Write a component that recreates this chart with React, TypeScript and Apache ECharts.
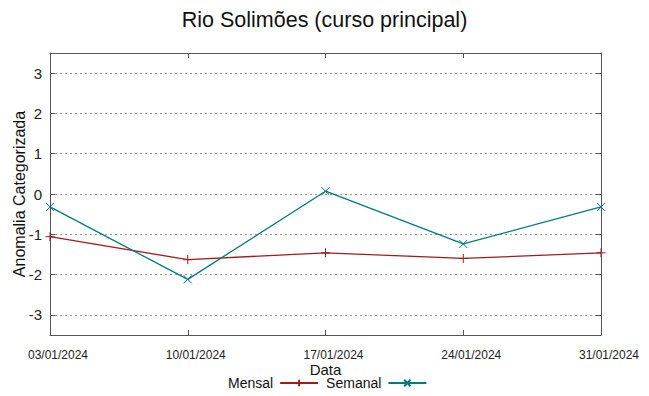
import React, { useEffect, useRef } from "react";
import * as echarts from "echarts";

const dates = ["03/01/2024", "10/01/2024", "17/01/2024", "24/01/2024", "31/01/2024"];
const mensal = [-1.06, -1.63, -1.46, -1.6, -1.46];
const semanal = [-0.32, -2.12, 0.07, -1.24, -0.32];
const yTicks = [-3, -2, -1, 0, 1, 2, 3];

const FONT = "Liberation Sans";
const RED = "#a01c1c";
const TEAL = "#007b7b";
const AXIS = "#555";

const plusPath = "path://M0,5L10,5M5,0L5,10";
const crossPath = "path://M0,0L10,10M10,0L0,10";

export default function App() {
  const ref = useRef<HTMLDivElement>(null);
  useEffect(() => {
    if (!ref.current) return;
    const chart = echarts.init(ref.current, undefined, { renderer: "svg" });
    const baseY = {
      type: "value" as const,
      min: -3.5,
      max: 3.5,
      axisLine: { show: true, onZero: false, lineStyle: { color: AXIS, width: 1 } },
    };
    chart.setOption({
      animation: false,
      backgroundColor: "#fff",
      textStyle: { fontFamily: FONT },
      title: {
        text: "Rio Solimões (curso principal)",
        left: "center",
        top: 4,
        textStyle: { fontFamily: FONT, fontSize: 21.5, fontWeight: "normal", color: "#111" },
      },
      grid: { left: 50, right: 48, top: 53, bottom: 61, containLabel: false, outerBoundsMode: "none" },
      legend: {
        left: 228,
        top: 376,
        padding: 0,
        align: "right",
        itemWidth: 38,
        itemHeight: 8,
        itemGap: 7,
        textStyle: { fontFamily: FONT, fontSize: 14, color: "#111", padding: [0, 2, 0, 0] },
        data: ["Mensal", "Semanal"],
      },
      xAxis: [
        {
          type: "category",
          data: dates,
          boundaryGap: false,
          position: "bottom",
          name: "Data",
          nameLocation: "middle",
          nameGap: 27,
          nameMoveOverlap: false,
          nameTextStyle: { fontFamily: FONT, fontSize: 15, color: "#111" },
          axisLine: { show: true, onZero: false, lineStyle: { color: AXIS, width: 1 } },
          axisTick: { show: true, inside: true, length: 5, lineStyle: { color: AXIS } },
          axisLabel: { fontFamily: FONT, fontSize: 12, color: "#222", margin: 14, padding: [0, 0, 0, 16] },
          splitLine: { show: false },
        },
        {
          type: "category",
          data: dates,
          boundaryGap: false,
          position: "top",
          axisLine: { show: true, onZero: false, lineStyle: { color: AXIS, width: 1 } },
          axisTick: { show: true, inside: true, length: 5, lineStyle: { color: AXIS } },
          axisLabel: { show: false },
          splitLine: { show: false },
        },
      ],
      yAxis: [
        {
          ...baseY,
          position: "left",
          name: "Anomalia Categorizada",
          nameLocation: "middle",
          nameGap: 23,
          nameMoveOverlap: false,
          nameTextStyle: { fontFamily: FONT, fontSize: 16, color: "#111" },
          axisTick: { show: true, inside: true, length: 5, customValues: yTicks, lineStyle: { color: AXIS } },
          axisLabel: { fontFamily: FONT, fontSize: 15, color: "#222", margin: 8, customValues: yTicks },
          splitLine: { show: true, lineStyle: { color: "#999", type: [2, 3], width: 1 } },
        },
        {
          ...baseY,
          position: "right",
          axisTick: { show: true, inside: true, length: 5, customValues: yTicks, lineStyle: { color: AXIS } },
          axisLabel: { show: false, customValues: yTicks },
          splitLine: { show: false },
        },
      ],
      series: [
        {
          name: "Mensal",
          type: "line",
          data: mensal,
          symbol: plusPath,
          symbolSize: 9,
          showAllSymbol: true,
          itemStyle: { color: RED, borderColor: RED, borderWidth: 1 },
          lineStyle: { color: RED, width: 1.3 },
        },
        {
          name: "Semanal",
          type: "line",
          data: semanal,
          symbol: crossPath,
          symbolSize: 8,
          showAllSymbol: true,
          itemStyle: { color: TEAL, borderColor: TEAL, borderWidth: 1 },
          lineStyle: { color: TEAL, width: 1.3 },
        },
      ],
    });
    return () => chart.dispose();
  }, []);
  return <div ref={ref} style={{ width: 649, height: 396, position: "absolute", left: 0, top: 0 }} />;
}
